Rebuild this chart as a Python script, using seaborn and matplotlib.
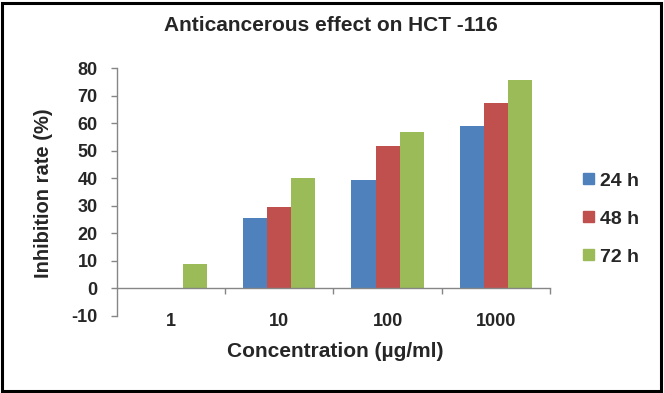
import pandas as pd
import matplotlib
matplotlib.use('Agg')
import matplotlib.pyplot as plt
import matplotlib.patches as mpatches
import seaborn as sns

# data
concentrations = ['1', '10', '100', '1000']
times = ['24 h', '48 h', '72 h']
inhib_24h = [0, 25.5, 39.3, 59.0]
inhib_48h = [0, 29.5, 51.7, 67.4]
inhib_72h = [8.7, 40.0, 56.8, 75.7]
y_ticks = [-10, 0, 10, 20, 30, 40, 50, 60, 70, 80]

colors = ['#4F81BD', '#C0504D', '#9BBB59']
grey = '#868686'

df = pd.DataFrame({
    'conc': concentrations * 3,
    'time': [t for t in times for _ in concentrations],
    'rate': inhib_24h + inhib_48h + inhib_72h,
})

sns.set_style('white')
plt.rcParams['font.family'] = ['Liberation Sans', 'DejaVu Sans']
plt.rcParams['font.weight'] = 'bold'

fig = plt.figure(figsize=(6.64, 3.93), dpi=100)
ax = fig.add_axes([0.1762, 0.1972, 0.652, 0.629])

sns.barplot(data=df, x='conc', y='rate', hue='time', order=concentrations,
            hue_order=times, palette=colors, width=2/3, gap=0,
            saturation=1, linewidth=0, ax=ax)

ax.set_xlim(-0.5, 3.5)
ax.set_ylim(-10, 80)
ax.set_yticks(y_ticks)
ax.set_yticklabels([str(v) for v in y_ticks])

# category labels in the middle, tick marks at the boundaries
ax.set_xticks(range(len(concentrations)))
ax.set_xticklabels(concentrations)
ax.set_xticks([0.5, 1.5, 2.5, 3.5], minor=True)
ax.tick_params(axis='x', which='major', length=0, pad=18, labelsize=13)
ax.tick_params(axis='x', which='minor', length=4, width=1, color=grey,
               direction='out', bottom=True)
ax.tick_params(axis='y', length=4, width=1, color=grey, direction='out',
               left=True, pad=10, labelsize=13)
for lbl in ax.get_xticklabels() + ax.get_yticklabels():
    lbl.set_fontweight('bold')

for s in ['top', 'right']:
    ax.spines[s].set_visible(False)
ax.spines['bottom'].set_position(('data', 0))
for s in ['left', 'bottom']:
    ax.spines[s].set_color(grey)
    ax.spines[s].set_linewidth(1)

ax.set_xlabel('Concentration (µg/ml)', fontsize=15, fontweight='bold')
ax.set_ylabel('Inhibition rate (%)', fontsize=14.5, fontweight='bold')
ax.xaxis.set_label_coords(0.503, -0.108)
ax.yaxis.set_label_coords(-0.148, 0.4955)

fig.text(0.4985, 0.935, 'Anticancerous effect on HCT -116', ha='center',
         va='center', fontsize=15, fontweight='bold')

handles = [mpatches.Patch(color=c) for c in colors]
ax.legend(handles, times, loc='center left',
          bbox_to_anchor=(583 / 664, 1 - 219 / 393),
          bbox_transform=fig.transFigure, frameon=False, borderpad=0,
          borderaxespad=0, handlelength=0.55, handleheight=0.55,
          handletextpad=0.3, labelspacing=1.08,
          prop={'size': 14, 'weight': 'bold'})

fig.patches.append(mpatches.Rectangle((2 / 664, 2 / 393), 659 / 664, 388 / 393,
                                      transform=fig.transFigure, fill=False,
                                      edgecolor='black', linewidth=2.2))

fig.savefig('out.png', dpi=100)
